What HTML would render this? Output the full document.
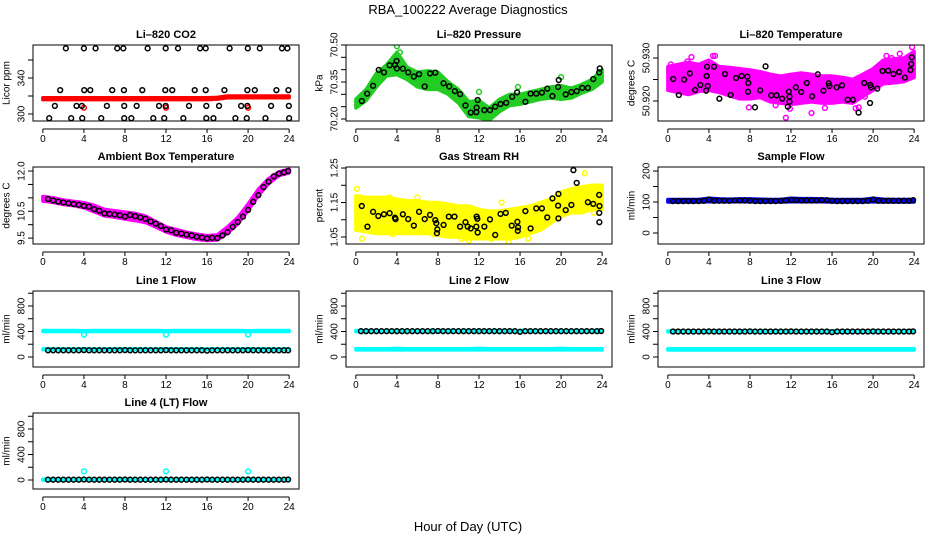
<!DOCTYPE html>
<html><head><meta charset="utf-8"><title>RBA_100222 Average Diagnostics</title>
<style>
html,body{margin:0;padding:0;background:#fff;}
svg{display:block;font-family:"Liberation Sans",sans-serif;}
</style></head>
<body>
<svg id="chart" width="936" height="540" viewBox="0 0 936 540" xmlns="http://www.w3.org/2000/svg">
<rect x="0" y="0" width="936" height="540" fill="#fff"/>
<text x="468" y="14" text-anchor="middle" font-size="13">RBA_100222  Average Diagnostics</text>
<text x="468" y="531" text-anchor="middle" font-size="13">Hour of Day (UTC)</text>
</svg>
<script>
// ---------- shared data ----------
const HRS = [0,1,2,3,4,5,6,7,8,9,10,11,12,13,14,15,16,17,18,19,20,21,22,23,24];
const HH = [0.5,1,1.5,2,2.5,3,3.5,4,4.5,5,5.5,6,6.5,7,7.5,8,8.5,9,9.5,10,10.5,11,11.5,12,12.5,13,13.5,14,14.5,15,15.5,16,16.5,17,17.5,18,18.5,19,19.5,20,20.5,21,21.5,22,22.5,23,23.5,23.9];
const xTickValues = [0,4,8,12,16,20,24];

// CO2
const co2Hours = [2.24,4.0,5.14,7.25,7.84,10.21,11.97,13.17,15.32,15.87,18.2,19.97,21.14,23.3,23.83,
 1.69,4.03,4.62,6.76,7.9,9.69,11.93,12.61,14.8,15.87,17.69,19.93,20.65,22.76,23.93,
 1.17,3.28,3.8,6.24,7.93,9.14,11.32,11.97,14.24,15.93,17.17,19.32,19.93,22.24,23.97,
 0.62,2.76,3.84,5.69,7.93,8.62,10.76,11.83,13.69,15.93,16.62,18.76,19.87,21.69,24.0];
const co2Values = [373,373,373,373,373,373,373,373,373,373,373,373,373,373,373,
 326.5,326.5,326.5,326.5,326.5,326.5,326.5,326.5,326.5,326.5,326.5,326.5,326.5,326.5,326.5,
 309,309,309,309,309,309,309,309,309,309,309,309,309,309,309,
 295.3,295.3,295.3,295.3,295.3,295.3,295.3,295.3,295.3,295.3,295.3,295.3,295.3,295.3,295.3];
const co2BandHi = [318,318,318,318,318,318,318,318,318,318,318,318,318,318,318,318,318,318.5,320,320,320,320,320,320,320];
const co2BandLo = [316,316,316,316,316,316,316,316,316,316,316,316,316,316,316,316,316,316.5,318,318,318,318,318,318,318];
const co2OutHours = [4,12,20];
const co2OutValues = [307,307,307];

// Pressure
const presHours = [0.58,1.1,1.68,2.23,2.74,3.29,3.81,3.97,3.99,4.58,5.1,5.65,6.16,6.71,7.23,7.74,8.55,9.1,9.65,10.16,10.68,11.2,11.74,11.87,11.77,12.52,13.07,13.58,14.1,14.65,15.23,15.71,16.52,17.03,17.58,18.13,18.65,19.16,19.71,19.77,20.45,21.0,21.52,22.06,22.61,23.13,23.71,23.77];
const presValues = [70.273,70.303,70.335,70.399,70.389,70.418,70.42,70.435,70.405,70.404,70.389,70.372,70.382,70.332,70.385,70.388,70.345,70.332,70.313,70.301,70.255,70.226,70.228,70.277,70.246,70.236,70.236,70.25,70.261,70.266,70.29,70.308,70.27,70.303,70.303,70.307,70.323,70.293,70.33,70.358,70.3,70.309,70.313,70.326,70.326,70.362,70.389,70.405];
const presBandHi = [70.28,70.32,70.385,70.42,70.47,70.41,70.39,70.395,70.39,70.35,70.32,70.27,70.275,70.245,70.28,70.30,70.30,70.31,70.32,70.33,70.335,70.325,70.34,70.36,70.40];
const presBandLo = [70.245,70.275,70.33,70.375,70.38,70.36,70.33,70.32,70.32,70.30,70.265,70.21,70.205,70.195,70.23,70.255,70.26,70.27,70.28,70.285,70.28,70.285,70.305,70.32,70.35];
const presOutHours = [4.0,4.3,12.0,20.0,15.8];
const presOutValues = [70.495,70.47,70.31,70.37,70.33];

// Li-820 temperature
const ltHours = [0.52,1.07,1.59,2.14,2.66,3.17,3.73,3.79,3.89,4.5,3.82,5.02,5.57,6.12,6.64,7.19,7.74,7.84,7.81,8.49,9.0,9.52,10.07,10.59,11.14,11.69,11.79,11.85,11.85,12.47,12.99,13.54,14.06,14.61,15.16,15.68,15.74,16.45,16.97,17.52,18.04,18.59,19.14,19.7,19.73,19.8,20.4,20.92,21.47,21.99,22.54,23.1,23.64,23.71,23.77];
const ltValues = [50.92512,50.9214,50.92496,50.92643,50.92256,50.92372,50.9224,50.92581,50.92349,50.92798,50.92798,50.92054,50.92628,50.9214,50.92535,50.92581,50.92566,50.92419,50.92217,50.91853,50.92248,50.92806,50.92132,50.92132,50.92054,50.91868,50.92217,50.91984,50.92101,50.92318,50.92209,50.92419,50.92109,50.9262,50.9224,50.92411,50.92349,50.92318,50.92364,50.92031,50.92031,50.91729,50.92419,50.91953,50.92372,50.92318,50.92287,50.92698,50.92705,50.92628,50.92674,50.92543,50.92721,50.9286,50.93016];
const ltBandHi = [50.9280,50.9285,50.9290,50.9285,50.9295,50.9280,50.9278,50.9275,50.9272,50.9268,50.9262,50.9258,50.9262,50.9265,50.9262,50.9258,50.9258,50.9255,50.9250,50.9262,50.9275,50.9295,50.9298,50.9300,50.9315];
const ltBandLo = [50.9225,50.9220,50.9215,50.9222,50.9225,50.9220,50.9212,50.9205,50.9205,50.9208,50.9198,50.9195,50.9192,50.9195,50.9198,50.9195,50.9195,50.9198,50.9195,50.9210,50.9225,50.9240,50.9242,50.9245,50.9255];
const ltOutHours = [0.3,1.9,2.3,4.4,4.6,7.9,11.5,11.9,14.0,15.3,17.4,18.3,18.6,21.3,21.8,22.6,23.8,19.2,10.5];
const ltOutValues = [50.9285,50.9292,50.9302,50.9305,50.9305,50.9185,50.9161,50.9182,50.9172,50.9184,50.9200,50.9183,50.9185,50.9305,50.9300,50.9310,50.9325,50.9210,50.9190];

// Ambient box temperature
const ambValues = [10.96,10.9,10.86,10.83,10.8,10.77,10.74,10.7,10.67,10.58,10.52,10.42,10.4,10.38,10.35,10.3,10.36,10.32,10.27,10.22,10.12,10.04,9.95,9.82,9.79,9.7,9.67,9.63,9.6,9.55,9.52,9.49,9.51,9.5,9.6,9.72,9.92,10.1,10.3,10.55,10.85,11.1,11.4,11.6,11.8,11.9,11.95,12.0];
const ambBandHi = [11.05,11.0,10.92,10.87,10.82,10.72,10.57,10.52,10.47,10.42,10.32,10.12,9.92,9.82,9.72,9.65,9.59,9.62,9.92,10.27,10.77,11.32,11.72,11.97,12.07];
const ambBandLo = [10.88,10.83,10.75,10.71,10.63,10.48,10.33,10.28,10.21,10.15,10.08,9.91,9.73,9.61,9.53,9.45,9.41,9.43,9.68,10.03,10.53,11.08,11.53,11.83,11.93];

// Gas stream RH
const rhHours = [0.58,1.13,1.68,2.19,2.74,3.29,3.81,3.87,4.58,5.1,5.65,6.16,6.71,7.23,7.74,7.84,7.94,7.9,8.55,9.06,9.61,10.16,10.68,10.9,11.2,11.74,11.77,11.84,11.87,12.52,13.07,13.58,14.1,14.61,15.19,15.74,15.78,15.81,16.52,17.03,17.58,18.13,18.65,19.16,19.71,19.74,19.74,20.45,21.0,21.2,21.52,22.61,23.13,23.71,23.74,23.72,23.73];
const rhValues = [1.14,1.08,1.123,1.111,1.116,1.119,1.106,1.102,1.116,1.102,1.083,1.123,1.102,1.114,1.099,1.09,1.072,1.061,1.085,1.109,1.109,1.08,1.093,1.08,1.075,1.08,1.109,1.103,1.063,1.08,1.101,1.056,1.117,1.12,1.083,1.094,1.068,1.078,1.125,1.075,1.133,1.133,1.107,1.162,1.141,1.175,1.104,1.128,1.143,1.244,1.207,1.151,1.146,1.172,1.14,1.12,1.093];
const rhBandHi = [1.17,1.165,1.165,1.165,1.16,1.155,1.155,1.15,1.15,1.145,1.14,1.14,1.13,1.125,1.125,1.13,1.135,1.14,1.15,1.16,1.18,1.19,1.195,1.2,1.2];
const rhBandLo = [1.07,1.065,1.06,1.06,1.06,1.06,1.06,1.06,1.055,1.05,1.05,1.045,1.045,1.045,1.045,1.045,1.05,1.06,1.07,1.09,1.11,1.12,1.12,1.13,1.13];
const rhOutHours = [0.1,0.3,3.3,3.6,4.3,6.0,7.6,8.2,9.4,10.3,11.0,12.2,13.2,14.2,14.9,15.6,16.8,22.3,23.2,0.6,5.8,10.6];
const rhOutValues = [1.19,1.075,1.165,1.058,1.075,1.165,1.058,1.06,1.055,1.045,1.04,1.05,1.045,1.15,1.035,1.052,1.045,1.235,1.12,1.045,1.075,1.048];

// Sample flow
const sfValues = [103,103,103,103,103,103,104,108,104,104,104,104,105,105,105,104,103,103,103,103,103,104,105,107,106,105,105,105,105,106,106,104,103,103,103,103,103,103,104,108,104,104,104,104,104,104,104,106];
const sfBandHi = [108,108,108,108,112,110,109,110,110,109,108,108,112,111,111,110,108,108,108,108,112,109,108,108,108];
const sfBandLo = [100,100,100,100,101,101,101,101,101,100,100,100,101,101,101,101,100,100,100,100,101,100,100,100,100];

// Line flows
const l1HighHi = [415,415,415,415,412,415,415,415,415,415,415,415,412,415,415,415,415,415,415,415,412,415,415,415,415];
const l1HighLo = [400,400,400,400,398,400,400,400,400,400,400,400,398,400,400,400,400,400,400,400,398,400,400,400,400];
const l1LowHi = [128,128,128,128,130,128,128,128,128,128,128,128,130,128,128,128,128,128,128,128,130,128,128,128,128];
const l1LowLo = [115,115,115,115,115,115,115,115,115,115,115,115,115,115,115,115,115,115,115,115,115,115,115,115,115];
const l1Black = [105,105,105,105,105,105,105,108,105,105,105,105,105,105,105,108,105,105,105,105,105,105,105,108,105,105,105,105,105,105,105,100,105,105,105,105,105,105,105,108,105,105,105,105,105,105,105,105];
const l1OutHours = [4,12,20];
const l1OutValues = [350,350,350];

const l2HighHi = [415,415,415,415,415,415,415,415,415,415,415,415,415,415,415,415,415,415,415,415,415,415,415,415,415];
const l2HighLo = [398,398,398,398,396,398,398,398,398,398,398,398,396,398,398,398,398,398,398,398,396,398,398,398,398];
const l2LowHi = [130,130,130,130,135,130,130,130,130,130,130,130,135,130,130,130,130,130,130,130,135,130,130,130,130];
const l2LowLo = [112,112,112,112,112,112,112,112,112,112,112,112,112,112,112,112,112,112,112,112,112,112,112,112,112];
const l2Black = [405,405,405,405,405,405,405,405,405,405,405,405,405,405,405,408,405,405,405,405,405,405,405,405,405,405,405,405,405,405,405,395,405,405,405,405,405,405,405,405,405,405,405,405,405,405,405,408];

const l3HighHi = [410,410,410,410,410,410,410,410,410,410,410,410,410,410,410,410,410,410,410,410,410,410,410,410,410];
const l3HighLo = [393,393,393,393,390,393,393,393,393,393,393,393,390,393,393,393,393,393,393,393,390,393,393,393,393];
const l3LowHi = [130,130,130,130,130,130,130,130,130,130,130,130,130,130,130,130,130,130,130,130,130,130,130,130,130];
const l3LowLo = [110,110,110,110,110,110,110,110,110,110,110,110,110,110,110,110,110,110,110,110,110,110,110,110,110];
const l3Black = [400,400,400,400,400,400,400,402,400,400,400,400,400,400,400,402,400,400,400,400,400,400,400,402,400,400,400,400,400,400,400,390,400,400,400,400,400,400,400,402,400,400,400,400,400,400,400,402];

const l4BandHi = [12,12,12,12,12,12,12,12,12,12,12,12,12,12,12,12,12,12,12,12,12,12,12,12,12];
const l4BandLo = [-2,-2,-2,-2,-2,-2,-2,-2,-2,-2,-2,-2,-2,-2,-2,-2,-2,-2,-2,-2,-2,-2,-2,-2,-2];
const l4Black = [5,5,5,5,5,5,5,8,5,5,5,5,5,5,5,8,5,5,5,5,5,5,5,8,5,5,5,5,5,5,5,8,5,5,5,5,5,5,5,8,5,5,5,5,5,5,5,8];
const l4OutHours = [4,12,20];
const l4OutValues = [135,135,135];

// ---------- drawing helpers ----------
const NS = 'http://www.w3.org/2000/svg';
const svg = document.getElementById('chart');
let clipN = 0;
function mk(tag, attrs, parent){
  const e = document.createElementNS(NS, tag);
  for (const k in attrs) e.setAttribute(k, attrs[k]);
  (parent||svg).appendChild(e);
  return e;
}
function panel(name, x0, x1, y0, y1, ylo, yhi, yticks, ylabels, title, ytitle){
  const g = mk('g', {});
  
  
  const sx = h => x0 + (h + 0.96) / 25.92 * (x1 - x0);
  const sy = v => y1 - (v - ylo) / (yhi - ylo) * (y1 - y0);
  const id = 'clip' + (clipN++);
  const cp = mk('clipPath', {id:id}, g);
  mk('rect', {x:x0, y:y0, width:x1-x0, height:y1-y0}, cp);
  const plot = mk('g', {'clip-path':'url(#'+id+')'}, g);
  
  
  const box = mk('rect', {x:x0, y:y0, width:x1-x0, height:y1-y0, fill:'none', stroke:'#000', 'stroke-width':1}, g);
  
  
  const t = mk('text', {x:(x0+x1)/2, y:y0-7, 'text-anchor':'middle', 'font-size':11, 'font-weight':'bold'}, g);
  
  
  t.textContent = title;
  const xa = mk('g', {}, g);
  
  
  const ya = y1 + 8;
  mk('line', {x1:sx(xTickValues[0]), x2:sx(xTickValues[xTickValues.length-1]), y1:ya, y2:ya, stroke:'#000'}, xa);
  xTickValues.forEach(v => {
    mk('line', {x1:sx(v), x2:sx(v), y1:ya, y2:ya+4, stroke:'#000'}, xa);
    const tl = mk('text', {x:sx(v), y:ya+13, 'text-anchor':'middle', 'font-size':10}, xa);
    
    
    tl.textContent = v;
  });
  const yg = mk('g', {}, g);
  
  
  mk('line', {x1:x0, x2:x0, y1:sy(yticks[0]), y2:sy(yticks[yticks.length-1]), stroke:'#000'}, yg);
  yticks.forEach(v => mk('line', {x1:x0-5, x2:x0, y1:sy(v), y2:sy(v), stroke:'#000'}, yg));
  ylabels.forEach(lab => {
    const yy = sy(parseFloat(lab));
    const tl = mk('text', {x:x0-11, y:yy, 'text-anchor':'middle', 'font-size':10, transform:'rotate(-90 '+(x0-11)+' '+yy+')', 'dominant-baseline':'central'}, yg);
    
    
    tl.textContent = lab;
  });
  const yc = (y0+y1)/2;
  const yt = mk('text', {x:x0-26, y:yc, 'text-anchor':'middle', 'font-size':10, transform:'rotate(-90 '+(x0-26)+' '+yc+')', 'dominant-baseline':'central'}, g);
  
  
  yt.textContent = ytitle;
  return {sx, sy, plot};
}
function band(p, hours, hi, lo, color, nm){
  const pts = hours.map((h,i) => p.sx(h)+','+p.sy(hi[i])).concat(hours.slice().reverse().map((h,j) => { const i = hours.length-1-j; return p.sx(h)+','+p.sy(lo[i]); }));
  const e = mk('polygon', {points:pts.join(' '), fill:color, stroke:color, 'stroke-width':3.5, 'stroke-linejoin':'round'}, p.plot);
  
  
}
function points(p, hours, vals, color, nm){
  const g = mk('g', {fill:'none', stroke:color, 'stroke-width':1.5}, p.plot);
  
  
  hours.forEach((h,i) => {
    const c = mk('circle', {cx:p.sx(h), cy:p.sy(vals[i]), r:2.4}, g);
    
    
  });
}

const C1=[33,299], C2=[346,612], C3=[658,924];
const R1=[45,121], R2=[167,244], R3=[291,367], R4=[413,489];

let p = panel('li820-co2-panel', C1[0],C1[1],R1[0],R1[1], 292.2,376.7, [300,320,340,360], ['300','340'], 'Li\u2013820 CO2', 'Licor ppm');
band(p, HRS, co2BandHi, co2BandLo, '#ff0000', 'co2-band');
points(p, co2OutHours, co2OutValues, '#ff0000', 'co2-outliers');
points(p, co2Hours, co2Values, '#000', 'co2-averages');

p = panel('li820-pressure-panel', C2[0],C2[1],R1[0],R1[1], 70.192,70.5, [70.20,70.25,70.30,70.35,70.40,70.45,70.50], ['70.20','70.35','70.50'], 'Li\u2013820 Pressure', 'kPa');
band(p, HRS, presBandHi, presBandLo, '#22cc22', 'pressure-band');
points(p, presOutHours, presOutValues, '#22cc22', 'pressure-outliers');
points(p, presHours, presValues, '#000', 'pressure-averages');

p = panel('li820-temperature-panel', C3[0],C3[1],R1[0],R1[1], 50.91535,50.93302, [50.920,50.925,50.930], ['50.920','50.930'], 'Li\u2013820 Temperature', 'degrees C');
band(p, HRS, ltBandHi, ltBandLo, '#ff00ff', 'temperature-band');
points(p, ltOutHours, ltOutValues, '#ff00ff', 'temperature-outliers');
points(p, ltHours, ltValues, '#000', 'temperature-averages');

p = panel('ambient-box-temperature-panel', C1[0],C1[1],R2[0],R2[1], 9.28,12.15, [9.5,10,10.5,11,11.5,12], ['9.5','10.5','12.0'], 'Ambient Box Temperature', 'degrees C');
band(p, HRS, ambBandHi, ambBandLo, '#ff00ff', 'ambient-band');
points(p, HH, ambValues, '#000', 'ambient-averages');

p = panel('gas-stream-rh-panel', C2[0],C2[1],R2[0],R2[1], 1.0297,1.253, [1.05,1.10,1.15,1.20,1.25], ['1.05','1.15','1.25'], 'Gas Stream RH', 'percent');
band(p, HRS, rhBandHi, rhBandLo, '#ffff00', 'rh-band');
points(p, rhOutHours, rhOutValues, '#ffff00', 'rh-outliers');
points(p, rhHours, rhValues, '#000', 'rh-averages');

p = panel('sample-flow-panel', C3[0],C3[1],R2[0],R2[1], -35.5,213, [0,50,100,150,200], ['0','100','200'], 'Sample Flow', 'ml/min');
band(p, HRS, sfBandHi, sfBandLo, '#0000ff', 'sample-flow-band');
points(p, HH, sfValues, '#000', 'sample-flow-averages');

const FT = [0,200,400,600,800,1000], FL = ['0','400','800'];
p = panel('line1-flow-panel', C1[0],C1[1],R3[0],R3[1], -157,1035, FT, FL, 'Line 1 Flow', 'ml/min');
band(p, HRS, l1HighHi, l1HighLo, '#00ffff', 'line1-high-band');
band(p, HRS, l1LowHi, l1LowLo, '#00ffff', 'line1-low-band');
points(p, l1OutHours, l1OutValues, '#00ffff', 'line1-outliers');
points(p, HH, l1Black, '#000', 'line1-averages');

p = panel('line2-flow-panel', C2[0],C2[1],R3[0],R3[1], -157,1035, FT, FL, 'Line 2 Flow', 'ml/min');
band(p, HRS, l2HighHi, l2HighLo, '#00ffff', 'line2-high-band');
band(p, HRS, l2LowHi, l2LowLo, '#00ffff', 'line2-low-band');
points(p, HH, l2Black, '#000', 'line2-averages');

p = panel('line3-flow-panel', C3[0],C3[1],R3[0],R3[1], -157,1035, FT, FL, 'Line 3 Flow', 'ml/min');
band(p, HRS, l3HighHi, l3HighLo, '#00ffff', 'line3-high-band');
band(p, HRS, l3LowHi, l3LowLo, '#00ffff', 'line3-low-band');
points(p, HH, l3Black, '#000', 'line3-averages');

p = panel('line4-lt-flow-panel', C1[0],C1[1],R4[0],R4[1], -141,1051, FT, FL, 'Line 4 (LT) Flow', 'ml/min');
band(p, HRS, l4BandHi, l4BandLo, '#00ffff', 'line4-band');
points(p, l4OutHours, l4OutValues, '#00ffff', 'line4-outliers');
points(p, HH, l4Black, '#000', 'line4-averages');
</script>
</body></html>
